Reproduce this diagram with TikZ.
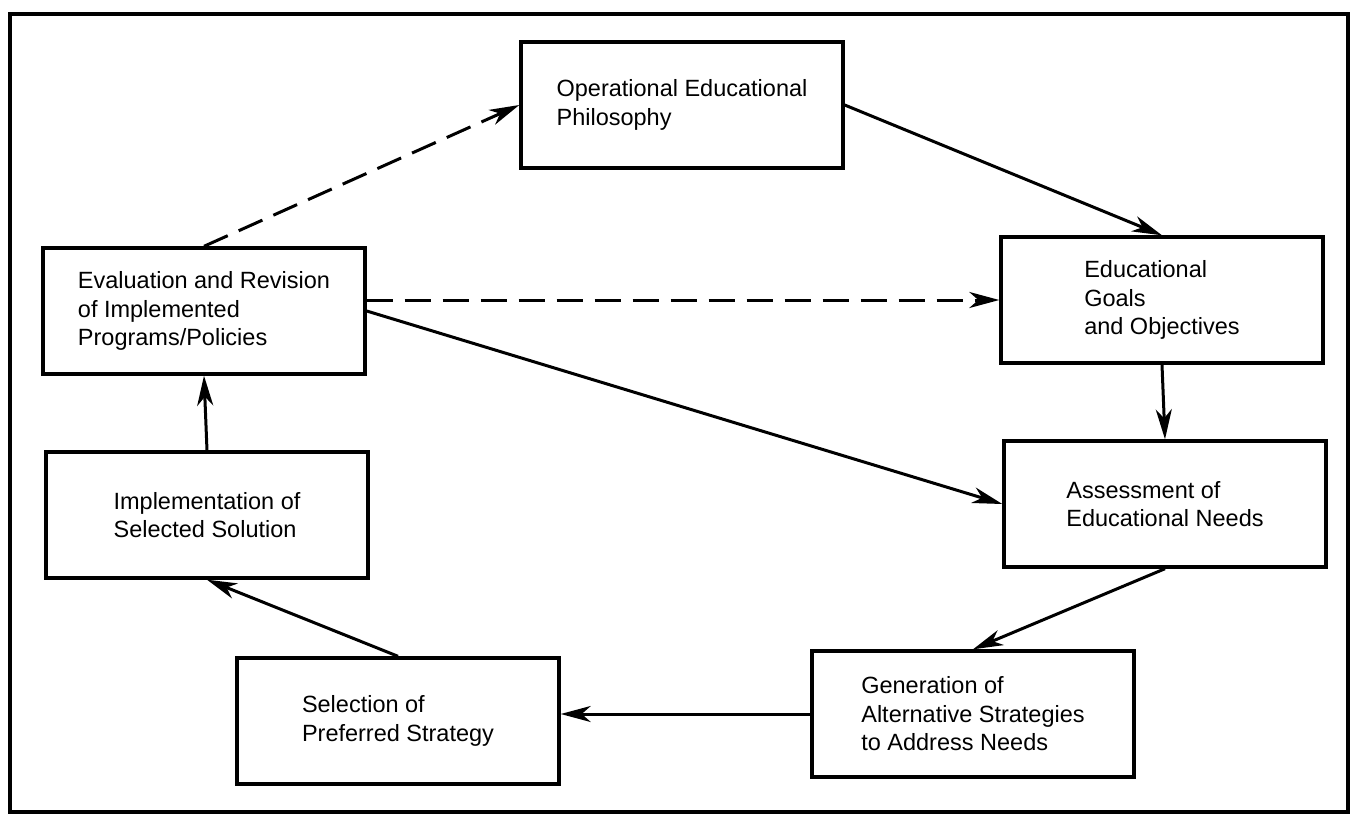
\documentclass[tikz,border=0pt]{standalone}
\usepackage{fontspec}
\setmainfont{Liberation Sans}
\usetikzlibrary{positioning}
\usetikzlibrary{arrows.meta}
\usetikzlibrary{math}

\begin{document}
\begin{tikzpicture}[x=1pt,y=-1pt,line width=3pt,
  box/.style={draw,line width=3.4pt,minimum width=\boxw pt,minimum height=\boxh pt,
    inner sep=0pt,align=left,font=\fontsize{23.5}{28.5}\selectfont},
  flow/.style={-{Stealth[length=30pt,width=16pt,inset=9pt]}},
  revise/.style={flow,dash pattern=on 26pt off 12pt}]

  \tikzmath{
    \boxw = 322; % width of every box
    \boxh = 126; % height of every box
  }

  \useasboundingbox (0,0) rectangle (1355,816);

  % outer frame
  \draw[line width=3.4pt] (10,14) rectangle (1348,812);

  % the seven stages
  \node[box] (phil)  at (682,105)  {Operational Educational\\Philosophy};
  \node[box] (goals) at (1162,300) {Educational\\Goals\\and Objectives};
  \node[box] (needs) at (1165,504) {Assessment of\\Educational Needs};
  \node[box] (alt)   at (973,714)  {Generation of\\Alternative Strategies\\to Address Needs};
  \node[box] (sel)   at (398,721)  {Selection of\\Preferred Strategy};
  \node[box] (impl)  at (207,515)  {Implementation of\\Selected Solution};
  \node[box] (eval)  at (204,311)  {Evaluation and Revision\\of Implemented\\Programs/Policies};

  % main cycle
  \draw[flow] (phil.east) -- (goals.north);
  \draw[flow] (goals.south) -- (needs.north);
  \draw[flow] (needs.south) -- (alt.north);
  \draw[flow] (alt.west) -- (alt.west -| sel.east);
  \draw[flow] (sel.north) -- (impl.south);
  \draw[flow] (impl.north) -- (eval.south);
  \draw[flow] (eval.east) -- (needs.west);

  % revision paths
  \draw[revise] (eval.north) -- (phil.west);
  \draw[revise] (eval.east |- goals.west) -- (goals.west);

\end{tikzpicture}
\end{document}
